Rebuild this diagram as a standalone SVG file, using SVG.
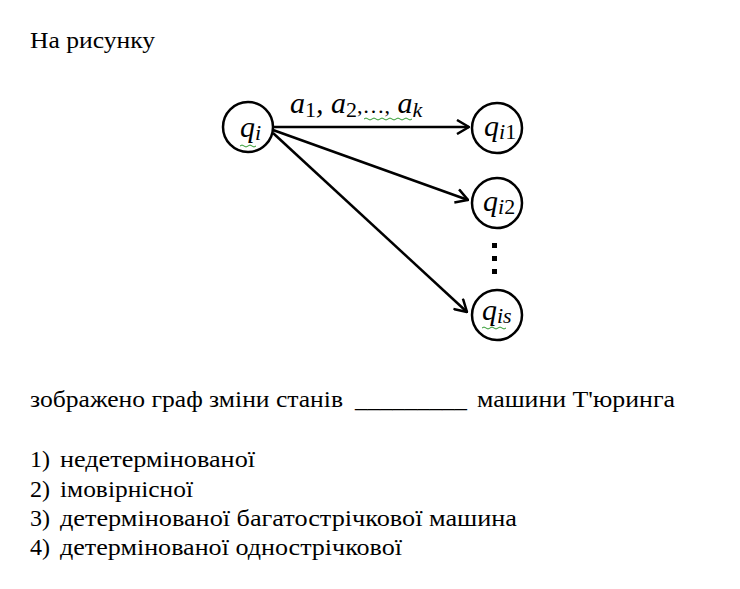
<svg xmlns="http://www.w3.org/2000/svg" width="740" height="589" viewBox="0 0 740 589">
<defs>
<marker id="ah" viewBox="0 0 14 16" refX="13" refY="8" markerWidth="14" markerHeight="16" markerUnits="userSpaceOnUse" orient="auto">
<path d="M1,1 L13,8 L1,15" fill="none" stroke="#000" stroke-width="2.5"/>
</marker>
</defs>
<rect width="740" height="589" fill="#fff"/>
<text x="30" y="48" font-family="Times New Roman, Liberation Serif, serif" font-size="24" textLength="125" lengthAdjust="spacingAndGlyphs">На рисунку</text>
<g id="connectors" stroke="#000" stroke-width="2.5" fill="none">
<line x1="273" y1="127" x2="469" y2="127" marker-end="url(#ah)"/>
<line x1="273" y1="130" x2="468" y2="200" marker-end="url(#ah)"/>
<line x1="273" y1="133" x2="467" y2="312" marker-end="url(#ah)"/>
</g>
<g id="edge-label">
<text x="290" y="113" font-family="Times New Roman, Liberation Serif, serif" font-style="italic" font-size="30">a<tspan font-style="normal" font-size="22" dy="4">1</tspan><tspan dy="-4">, a</tspan><tspan font-style="normal" font-size="22" dy="4">2</tspan><tspan font-style="normal" font-size="22" dy="-4">,…,</tspan> a<tspan font-size="22" dy="4">k</tspan></text>
<path stroke="#2e9a2e" stroke-width="1" fill="none" d="M364,119 q2,-2 4,0 t4,0 t4,0 t4,0 t4,0 t4,0 t4,0 t4,0 t4,0 t4,0 t4,0 t4,0"/>
</g>
<g id="node-qi">
<circle cx="248" cy="127" r="25" fill="#fff" stroke="#000" stroke-width="2.5"/>
<text x="240" y="137" font-family="Times New Roman, Liberation Serif, serif" font-style="italic" font-size="30">q<tspan font-size="22" dy="3">i</tspan></text>
<path stroke="#2e9a2e" stroke-width="1" fill="none" d="M240,146 q2,-2 4,0 t4,0 t4,0 t4,0"/>
</g>
<g id="node-qi1">
<circle cx="497" cy="128" r="25" fill="#fff" stroke="#000" stroke-width="2.5"/>
<text x="484" y="136" font-family="Times New Roman, Liberation Serif, serif" font-style="italic" font-size="30">q<tspan font-size="22" dy="3">i</tspan><tspan font-style="normal" font-size="22">1</tspan></text>
</g>
<g id="node-qi2">
<circle cx="497" cy="203" r="25" fill="#fff" stroke="#000" stroke-width="2.5"/>
<text x="483" y="211" font-family="Times New Roman, Liberation Serif, serif" font-style="italic" font-size="30">q<tspan font-size="22" dy="3">i</tspan><tspan font-style="normal" font-size="22">2</tspan></text>
</g>
<g id="dots" fill="#000">
<rect x="492" y="243" width="5" height="5"/>
<rect x="492" y="256" width="5" height="5"/>
<rect x="492" y="269" width="5" height="5"/>
</g>
<g id="node-qis">
<circle cx="497" cy="315" r="25" fill="#fff" stroke="#000" stroke-width="2.5"/>
<text x="482" y="320" font-family="Times New Roman, Liberation Serif, serif" font-style="italic" font-size="30">q<tspan font-size="22" dy="3">is</tspan></text>
<path stroke="#2e9a2e" stroke-width="1" fill="none" d="M482,328 q2,-2 4,0 t4,0 t4,0 t4,0 t4,0 t4,0"/>
</g>
<g id="question" font-family="Times New Roman, Liberation Serif, serif" font-size="24" fill="#000">
<text x="30" y="407" textLength="313" lengthAdjust="spacingAndGlyphs">зображено граф зміни станів</text>
<text x="355" y="407" textLength="112" lengthAdjust="spacingAndGlyphs">_________</text>
<text x="477" y="407" textLength="198" lengthAdjust="spacingAndGlyphs">машини Т'юринга</text>
<text x="30" y="467">1)</text>
<text x="60" y="467" textLength="195" lengthAdjust="spacingAndGlyphs">недетермінованої</text>
<text x="30" y="497">2)</text>
<text x="60" y="497" textLength="133" lengthAdjust="spacingAndGlyphs">імовірнісної</text>
<text x="30" y="526">3)</text>
<text x="60" y="526" textLength="457" lengthAdjust="spacingAndGlyphs">детермінованої багатострічкової машина</text>
<text x="30" y="555">4)</text>
<text x="60" y="555" textLength="342" lengthAdjust="spacingAndGlyphs">детермінованої однострічкової</text>
</g>
</svg>
